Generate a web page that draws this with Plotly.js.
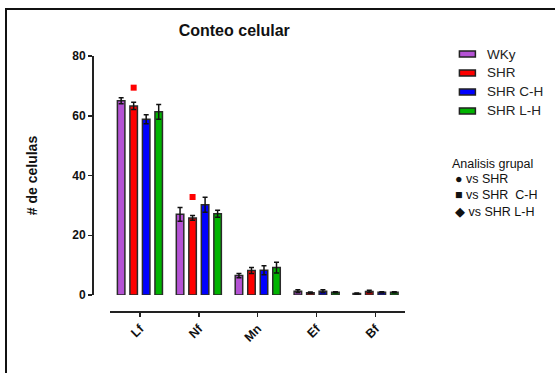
<!DOCTYPE html>
<html>
<head>
<meta charset="utf-8">
<script src="https://cdn.plot.ly/plotly-3.0.1.min.js"></script>
<style>
html,body{margin:0;padding:0;background:#fff;}
#wrap{position:relative;width:555px;height:373px;}
#chart{width:555px;height:373px;}
#frame{position:absolute;left:5px;top:8px;width:548px;height:365px;border-left:2px solid #111;border-top:2px solid #111;pointer-events:none;}
</style>
</head>
<body>
<div id="wrap"><div id="chart"></div><div id="frame"></div></div>
<script>
// ---- data ----
const categories = ['Lf', 'Nf', 'Mn', 'Ef', 'Bf'];
const seriesNames = ['WKy', 'SHR', 'SHR C-H', 'SHR L-H'];
const wkyMean  = [65.0, 27.0, 6.5, 1.3, 0.5];
const wkyErr   = [1.0, 2.3, 0.7, 0.5, 0.2];
const shrMean  = [63.3, 25.8, 8.2, 0.8, 1.2];
const shrErr   = [1.2, 0.8, 1.0, 0.2, 0.4];
const chMean   = [58.8, 30.2, 8.3, 1.3, 0.9];
const chErr    = [1.5, 2.5, 1.5, 0.5, 0.2];
const lhMean   = [61.3, 27.2, 9.2, 0.9, 0.9];
const lhErr    = [2.5, 1.2, 1.8, 0.2, 0.2];
const sigCategories = ['Lf', 'Nf'];      // marked SHR bars
const sigLevels     = [69.4, 32.8];      // marker heights
const legendGroupTitle = 'Analisis grupal';
const legendGroupItems = ['\u25CF vs SHR', '\u25A0 vs SHR\u00A0 C-H', '\u25C6 vs SHR L-H'];

// ---- styles ----
const colors = ['#b452d4', '#ff0000', '#0000ff', '#00b400'];
const BARGAP = 0.15, BARGROUPGAP = 0.4;
const W = 555, H = 373;
const M = {l: 92, r: 149.5, t: 55.7, b: 62};
const PW = W - M.l - M.r, PH = H - M.t - M.b;
const px2x = p => (p - M.l) / PW;
const px2y = p => (H - M.b - p) / PH;

const means = [wkyMean, shrMean, chMean, lhMean];
const errs = [wkyErr, shrErr, chErr, lhErr];
const idx = categories.map((c, i) => i);

const traces = seriesNames.map((n, k) => ({
  type: 'bar', name: n, x: idx, y: means[k],
  marker: {color: colors[k], line: {color: '#2a2a2a', width: 1.5}},
  error_y: {type: 'data', array: errs[k], visible: true, color: '#111', thickness: 1.5, width: 2.5},
  showlegend: false, hoverinfo: 'skip'
}));

// SHR slot offset within a group (from bar layout settings)
const slot = (1 - BARGAP) / seriesNames.length;
const shrOffset = -(1 - BARGAP) / 2 + slot * 1.5;
traces.push({
  type: 'scatter', mode: 'markers',
  x: sigCategories.map(c => categories.indexOf(c) + shrOffset),
  y: sigLevels,
  marker: {symbol: 'square', size: 6, color: '#ff0000'},
  showlegend: false, hoverinfo: 'skip', cliponaxis: false
});

const shapes = [];
const annotations = [];
const legTop = 53.7, legStep = 19;
seriesNames.forEach((n, k) => {
  const yc = legTop + k * legStep;
  shapes.push({type: 'rect', xref: 'paper', yref: 'paper',
    x0: px2x(460), x1: px2x(476), y0: px2y(yc - 3), y1: px2y(yc + 3),
    fillcolor: colors[k], line: {color: '#222', width: 1.5}});
  annotations.push({xref: 'paper', yref: 'paper', x: px2x(486), y: px2y(yc),
    xanchor: 'left', yanchor: 'middle', showarrow: false, text: n,
    font: {family: 'Liberation Sans, Arial', size: 13.5, color: '#222'}});
});
annotations.push({xref: 'paper', yref: 'paper', x: px2x(451), y: px2y(163.5),
  xanchor: 'left', yanchor: 'middle', showarrow: false, text: legendGroupTitle,
  font: {family: 'Liberation Sans, Arial', size: 12.5, color: '#111'}});
legendGroupItems.forEach((t, k) => {
  annotations.push({xref: 'paper', yref: 'paper', x: px2x(454), y: px2y(179 + k * 16.3),
    xanchor: 'left', yanchor: 'middle', showarrow: false, text: t,
    font: {family: 'Liberation Sans, Arial', size: 12.5, color: '#111'}});
});

const layout = {
  width: W, height: H,
  margin: M,
  paper_bgcolor: '#fff', plot_bgcolor: 'rgba(0,0,0,0)',
  barmode: 'group', bargap: BARGAP, bargroupgap: BARGROUPGAP,
  showlegend: false,
  title: {text: '<b>Conteo celular</b>', x: px2x(234.5), xref: 'paper', xanchor: 'center',
    y: 1 - 30.7 / H, yanchor: 'middle',
    font: {family: 'Liberation Sans, Arial', size: 16, color: '#111'}},
  xaxis: {
    domain: [px2x(110.5), 1], range: [-0.5, categories.length - 0.5],
    anchor: 'free', position: 0,
    tickvals: idx, ticktext: categories.map(c => '<b>' + c + '</b>'), tickangle: -45,
    ticks: 'outside', ticklen: 4, tickwidth: 1.5, tickcolor: '#222',
    showline: true, linecolor: '#222', linewidth: 1.5,
    showgrid: false, zeroline: false,
    tickfont: {family: 'Liberation Sans, Arial', size: 12.5, color: '#111'}
  },
  yaxis: {
    domain: [px2y(295), 1], range: [0, 80],
    anchor: 'free', position: 0,
    tickvals: [0, 20, 40, 60, 80], ticktext: ['<b>0</b>', '<b>20</b>', '<b>40</b>', '<b>60</b>', '<b>80</b>'],
    ticks: 'outside', ticklen: 4, tickwidth: 1.5, tickcolor: '#222',
    showline: true, linecolor: '#222', linewidth: 1.5,
    showgrid: false, zeroline: false,
    tickfont: {family: 'Liberation Sans, Arial', size: 12, color: '#111'},
    title: {text: '<b># de celulas</b>', standoff: 30,
      font: {family: 'Liberation Sans, Arial', size: 14, color: '#111'}}
  },
  shapes: shapes,
  annotations: annotations
};

Plotly.newPlot('chart', traces, layout, {staticPlot: true, displayModeBar: false});
</script>
</body>
</html>
